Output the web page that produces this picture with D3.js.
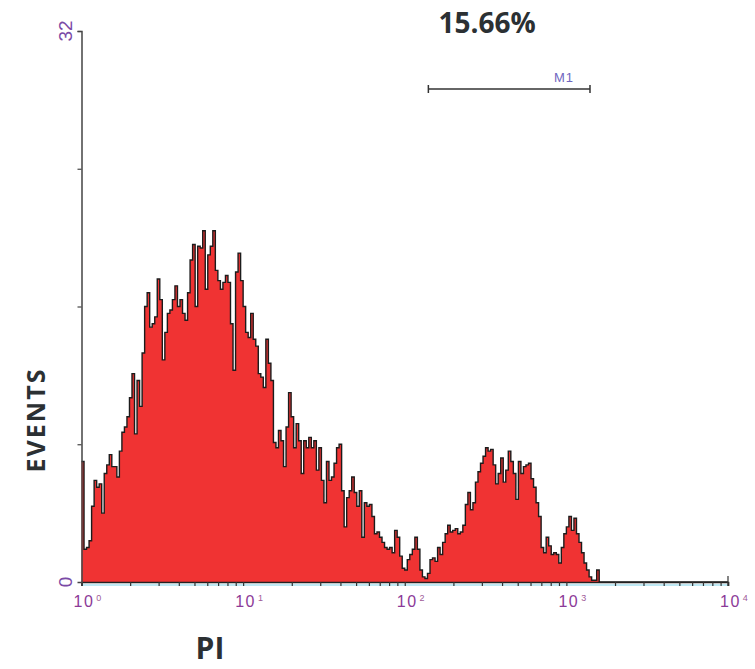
<!DOCTYPE html>
<html>
<head>
<meta charset="utf-8">
<script src="https://cdn.jsdelivr.net/npm/d3@7"></script>
<style>
  body { margin: 0; background: #fff; }
  svg { display: block; }
</style>
</head>
<body>
<div id="container"></div>
<script>
// histogram counts, 256 channels spread over 4 log decades
const counts = [
  7.0, 1.9, 2.0, 2.4, 4.4, 5.9, 5.5, 5.7, 4.0, 6.3,
  6.8, 7.4, 6.7, 6.7, 6.1, 7.6, 8.7, 9.0, 9.6, 10.7,
  12.1, 8.6, 11.7, 10.2, 13.3, 16.0, 16.8, 14.8, 15.0, 15.4,
  17.6, 16.4, 12.9, 14.5, 15.6, 15.8, 16.4, 17.2, 16.0, 16.4,
  15.6, 15.2, 16.8, 18.7, 19.6, 16.0, 19.5, 19.4, 20.4, 17.0,
  19.0, 19.5, 20.4, 18.1, 17.5, 17.0, 17.4, 17.8, 17.4, 15.0,
  12.3, 18.0, 19.1, 17.5, 16.0, 14.5, 14.2, 15.6, 14.1, 13.7,
  12.1, 11.9, 11.3, 14.1, 12.7, 11.7, 8.1, 7.8, 8.8, 8.2,
  6.7, 9.0, 11.0, 9.6, 7.8, 9.2, 8.2, 6.3, 8.2, 7.8,
  8.4, 7.8, 8.2, 6.5, 7.8, 5.9, 4.6, 7.0, 5.9, 6.1,
  6.9, 7.8, 8.0, 5.3, 3.2, 4.9, 5.3, 6.1, 5.2, 4.4,
  5.3, 2.6, 4.6, 4.4, 4.5, 3.8, 2.8, 2.9, 2.6, 2.3,
  2.0, 1.9, 2.0, 1.7, 3.0, 2.6, 1.5, 0.8, 0.7, 1.3,
  1.6, 1.9, 2.6, 1.9, 0.7, 0.3, 0.2, 0.5, 1.3, 1.4,
  1.2, 2.0, 1.6, 2.3, 2.8, 3.3, 2.9, 3.0, 3.1, 2.8,
  2.9, 3.3, 4.5, 5.2, 4.2, 4.6, 5.8, 6.4, 6.9, 7.3,
  7.8, 7.6, 7.7, 6.8, 5.7, 6.3, 7.2, 5.8, 6.5, 7.6,
  7.0, 6.3, 4.8, 7.0, 6.3, 6.7, 6.8, 6.9, 6.0, 5.5,
  4.6, 3.8, 2.0, 1.7, 2.6, 2.1, 1.6, 1.7, 1.6, 1.1,
  2.0, 2.8, 3.2, 3.8, 3.0, 3.7, 2.8, 2.3, 1.7, 1.1,
  0.7, 0.3, 0.1, 0.1, 0.7, 0, 0, 0, 0, 0,
  0, 0, 0, 0, 0, 0, 0, 0, 0, 0,
  0, 0, 0, 0, 0, 0, 0, 0, 0, 0,
  0, 0, 0, 0, 0, 0, 0, 0, 0, 0,
  0, 0, 0, 0, 0, 0, 0, 0, 0, 0,
  0, 0, 0, 0, 0, 0
];
const xDomain = [1, 10000];
const xDecades = [0, 1, 2, 3, 4];
const yMax = 32;
const yTicks = [0, 8, 16, 24, 32];
const yLabels = [0, 32];
const gateM1 = [140, 1400];
const gateName = "M1";
const gatePercent = "15.66%";

const W = 755, H = 669;
const svg = d3.select("#container").append("svg")
    .attr("width", W)
    .attr("height", H);

// scales
const x = d3.scaleLog().domain(xDomain).range([81.5, 728]);
const y = d3.scaleLinear().domain([0, yMax]).range([582, 31]);

const nCh = counts.length;
const chEdge = i => Math.pow(10, 4 * i / nCh);

// histogram as a step area
const pts = counts.map((c, i) => ({ v: chEdge(i), c: c }));
pts.push({ v: chEdge(nCh), c: 0 });

const area = d3.area()
    .curve(d3.curveStepAfter)
    .x(d => x(d.v))
    .y0(y(0))
    .y1(d => y(d.c));

const line = d3.line()
    .curve(d3.curveStepAfter)
    .x(d => x(d.v))
    .y(d => y(d.c));

svg.append("path")
    .datum(pts)
    .attr("d", area)
    .attr("fill", "#f03333");

svg.append("path")
    .datum(pts)
    .attr("d", line)
    .attr("fill", "none")
    .attr("stroke", "#1c1c1c")
    .attr("stroke-width", 1.4);

// x axis (log, minor ticks below)
svg.append("line")
    .attr("x1", x(xDomain[0])).attr("x2", x(xDomain[1]))
    .attr("y1", y(0) + 3).attr("y2", y(0) + 3)
    .attr("stroke", "#7fd3ea").attr("stroke-width", 1);

const xAxis = d3.axisBottom(x)
    .tickValues(x.ticks())
    .tickSize(4)
    .tickFormat("");

const gx = svg.append("g")
    .attr("transform", `translate(0,${y(0)})`)
    .call(xAxis);
gx.select(".domain").attr("stroke", "#222").attr("stroke-width", 1.6);
gx.selectAll(".tick line").attr("stroke", "#333").attr("stroke-width", 1.2);

// end tick at 10^4 sticks up a little
svg.append("line")
    .attr("x1", x(xDomain[1])).attr("x2", x(xDomain[1]))
    .attr("y1", y(0) - 6).attr("y2", y(0) + 4)
    .attr("stroke", "#333").attr("stroke-width", 1.2);

// decade labels 10^n
const xl = svg.append("g").selectAll("text")
    .data(xDecades)
    .enter().append("text")
    .attr("x", d => x(Math.pow(10, d)) - 8)
    .attr("y", 607)
    .style("font-family", "Liberation Sans, Arial, sans-serif")
    .style("font-size", "16px")
    .style("letter-spacing", "1.5px")
    .style("fill", "#8c3a98");
xl.append("tspan").text("10");
xl.append("tspan")
    .attr("dx", 2)
    .attr("dy", -6)
    .style("font-size", "9px")
    .style("fill", "#a05a98")
    .text(d => d);

// y axis
const yAxis = d3.axisLeft(y)
    .tickValues(yTicks.slice(1))
    .tickSize(4)
    .tickFormat("");

const gy = svg.append("g")
    .attr("transform", `translate(${x(xDomain[0])},0)`)
    .call(yAxis);
gy.select(".domain").attr("stroke", "#444").attr("stroke-width", 1.5);
gy.selectAll(".tick line").attr("stroke", "#444").attr("stroke-width", 1.2);

svg.append("g").selectAll("text")
    .data(yLabels)
    .enter().append("text")
    .attr("transform", d => `translate(72,${y(d)}) rotate(-90)`)
    .attr("text-anchor", "middle")
    .style("font-family", "Liberation Sans, Arial, sans-serif")
    .style("font-size", "19px")
    .style("fill", "#7a4aa6")
    .text(d => d);

// gate marker M1
const gy0 = 89;
const gate = svg.append("g")
    .attr("stroke", "#333")
    .attr("stroke-width", 1.5);
gate.append("line")
    .attr("x1", x(gateM1[0])).attr("x2", x(gateM1[1]))
    .attr("y1", gy0).attr("y2", gy0);
gateM1.forEach(v => {
    gate.append("line")
        .attr("x1", x(v)).attr("x2", x(v))
        .attr("y1", gy0 - 4).attr("y2", gy0 + 4);
});

svg.append("text")
    .attr("x", 564)
    .attr("y", 82)
    .attr("text-anchor", "middle")
    .style("font-family", "Liberation Sans, Arial, sans-serif")
    .style("font-size", "13px")
    .style("letter-spacing", "1px")
    .style("fill", "#6f66c0")
    .text(gateName);

svg.append("text")
    .attr("x", 487)
    .attr("y", 33)
    .attr("text-anchor", "middle")
    .style("font-family", "Open Sans, sans-serif")
    .style("font-weight", "bold")
    .style("font-size", "28px")
    .style("fill", "#2b3033")
    .text(gatePercent);

// axis titles
svg.append("text")
    .attr("transform", "translate(45,420) rotate(-90)")
    .attr("text-anchor", "middle")
    .style("font-family", "Open Sans, sans-serif")
    .style("font-weight", "bold")
    .style("font-size", "25px")
    .style("letter-spacing", "2px")
    .style("fill", "#2b3033")
    .text("EVENTS");

svg.append("text")
    .attr("x", 210)
    .attr("y", 659)
    .attr("text-anchor", "middle")
    .style("font-family", "Open Sans, sans-serif")
    .style("font-weight", "bold")
    .style("font-size", "30px")
    .style("fill", "#2b3033")
    .text("PI");
</script>
</body>
</html>
